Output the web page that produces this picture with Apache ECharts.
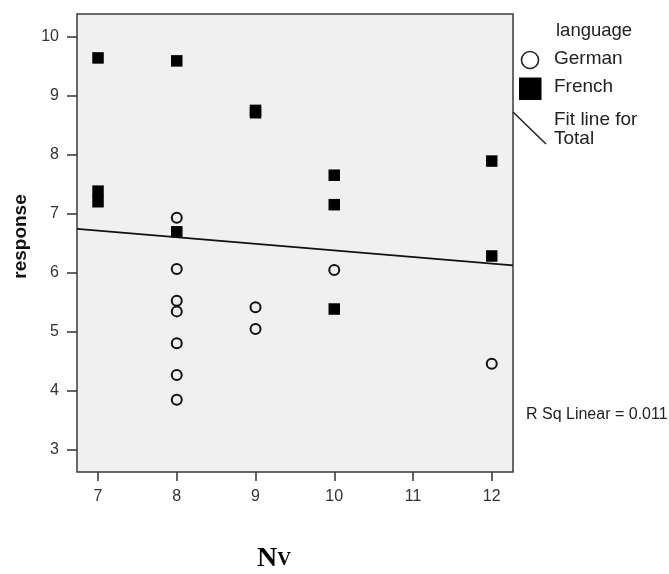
<!DOCTYPE html>
<html>
<head>
<meta charset="utf-8">
<script src="https://cdn.jsdelivr.net/npm/echarts@6/dist/echarts.min.js"></script>
<style>
  html, body { margin: 0; padding: 0; background: #fff; }
  #chart { width: 669px; height: 574px; }
</style>
</head>
<body>
<div id="chart"></div>
<script>
// values
const xTicks = [7, 8, 9, 10, 11, 12];
const yTicks = [3, 4, 5, 6, 7, 8, 9, 10];

const germanX = [8, 8, 8, 8, 8, 8, 8, 9, 9, 10, 12];
const germanY = [6.93, 6.06, 5.52, 5.34, 4.80, 4.26, 3.84, 5.41, 5.04, 6.04, 4.45];

const frenchX = [7, 7, 7, 8, 8, 9, 9, 10, 10, 10, 12, 12];
const frenchY = [9.64, 7.38, 7.20, 9.59, 6.69, 8.75, 8.71, 7.65, 7.15, 5.38, 7.89, 6.28];

// fit line end points, at the plot edges
const fitX = [6.733, 12.27];
const fitY = [6.74, 6.12];

const rSqText = 'R Sq Linear = 0.011';

const pairs = (xs, ys) => xs.map((x, i) => [x, ys[i]]);

const chart = echarts.init(document.getElementById('chart'), null, { renderer: 'canvas' });

const sans = 'Liberation Sans, Arial, sans-serif';

const option = {
    backgroundColor: '#ffffff',
    animation: false,
    grid: {
        left: 77, right: 156, top: 14, bottom: 102,
        show: true,
        backgroundColor: '#f0f0f0',
        borderColor: '#3a3a3a',
        borderWidth: 1.5,
        outerBoundsMode: 'none'
    },
    xAxis: {
        type: 'value',
        min: 6.733,
        max: 12.27,
        axisLine: { show: false },
        splitLine: { show: false },
        axisTick: { show: true, length: 9, customValues: xTicks, lineStyle: { color: '#333', width: 1.5 } },
        axisLabel: { customValues: xTicks, fontFamily: sans, fontSize: 16, color: '#333', margin: 17 }
    },
    yAxis: {
        type: 'value',
        min: 2.615,
        max: 10.385,
        name: 'response',
        nameLocation: 'middle',
        nameRotate: 90,
        nameGap: 45,
        nameTextStyle: { fontFamily: sans, fontWeight: 'bold', fontSize: 19, color: '#111', padding: [0, 0, 0, 13] },
        axisLine: { show: false },
        splitLine: { show: false },
        axisTick: { show: true, length: 10, customValues: yTicks, lineStyle: { color: '#333', width: 1.5 } },
        axisLabel: { customValues: yTicks, fontFamily: sans, fontSize: 16, color: '#333', margin: 18 }
    },
    series: [
        {
            name: 'German',
            type: 'scatter',
            symbol: 'circle',
            symbolSize: 10,
            itemStyle: { color: 'rgba(0,0,0,0)', borderColor: '#111', borderWidth: 2, opacity: 1 },
            data: pairs(germanX, germanY)
        },
        {
            name: 'French',
            type: 'scatter',
            symbol: 'rect',
            symbolSize: 11.5,
            itemStyle: { color: '#000', opacity: 1 },
            data: pairs(frenchX, frenchY)
        },
        {
            name: 'Fit line for Total',
            type: 'line',
            symbol: 'none',
            lineStyle: { color: '#111', width: 1.7 },
            data: pairs(fitX, fitY),
            z: 5
        }
    ],
    graphic: [
        { type: 'text', left: 556, top: 21, style: { text: 'language', font: '18.5px ' + sans, fill: '#222' } },
        { type: 'circle', shape: { cx: 530, cy: 60, r: 8.5 }, style: { fill: 'none', stroke: '#222', lineWidth: 1.6 } },
        { type: 'text', left: 554, top: 49, style: { text: 'German', font: '19px ' + sans, fill: '#222' } },
        { type: 'rect', shape: { x: 519, y: 77.5, width: 22.5, height: 22.5 }, style: { fill: '#000' } },
        { type: 'text', left: 554, top: 77, style: { text: 'French', font: '19px ' + sans, fill: '#222' } },
        { type: 'line', shape: { x1: 513, y1: 112, x2: 546, y2: 144 }, style: { stroke: '#222', lineWidth: 1.5 } },
        { type: 'text', left: 554, top: 110, style: { text: 'Fit line for\nTotal', font: '19px ' + sans, fill: '#222', lineHeight: 19 } },
        { type: 'text', left: 526, top: 407, style: { text: rSqText, font: '16px ' + sans, fill: '#222' } },
        {
            type: 'text', left: 257, top: 545,
            style: {
                text: '{n|N}{v|V}',
                rich: {
                    n: { fontFamily: 'Liberation Serif, Times New Roman, serif', fontWeight: 'bold', fontSize: 28, fill: '#000', color: '#000' },
                    v: { fontFamily: 'Liberation Serif, Times New Roman, serif', fontWeight: 'bold', fontSize: 19, fill: '#000', color: '#000', padding: [0, 0, -3, 0] }
                }
            }
        }
    ]
};

chart.setOption(option);
</script>
</body>
</html>
